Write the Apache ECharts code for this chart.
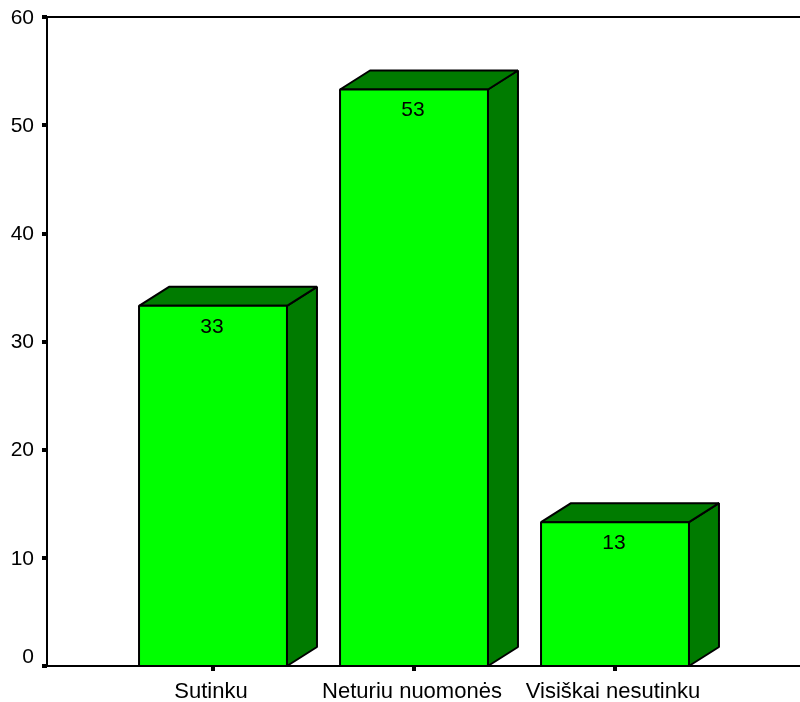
<!DOCTYPE html>
<html>
<head>
<meta charset="utf-8">
<style>html,body{margin:0;padding:0;background:#fff}#c{width:800px;height:702px}</style>
<script src="https://cdn.jsdelivr.net/npm/echarts@6/dist/echarts.min.js"></script>
</head>
<body>
<div id="c"></div>
<script>
var categories = ['Sutinku', 'Neturiu nuomonės', 'Visiškai nesutinku'];
var values = [33.3, 53.3, 13.3];
var valueLabels = ['33', '53', '13'];
var yTicks = [0, 10, 20, 30, 40, 50, 60];

var FONT = '"Liberation Sans", Arial, sans-serif';
var chart = echarts.init(document.getElementById('c'), null, {renderer: 'canvas'});

function renderBar(params, api) {
  var idx = api.value(0);
  var top = api.coord([idx, api.value(1)]);
  var base = api.coord([idx, 0]);
  var half = api.size([1, 0])[0] * 0.368;
  var dx = 30, dy = 19;
  var l = top[0] - half, r = top[0] + half, t = top[1], b = base[1];
  var line = {stroke: '#000', lineWidth: 2, lineJoin: 'bevel'};
  return {
    type: 'group',
    children: [
      {type: 'polygon', shape: {points: [[r, t], [r + dx, t - dy], [r + dx, b - dy], [r, b]]},
        style: Object.assign({fill: '#007b00'}, line)},
      {type: 'polygon', shape: {points: [[l, t], [l + dx, t - dy], [r + dx, t - dy], [r, t]]},
        style: Object.assign({fill: '#007b00'}, line)},
      {type: 'rect', shape: {x: l, y: t, width: r - l, height: b - t},
        style: Object.assign({fill: '#00ff00'}, line)},
      {type: 'text', style: {text: valueLabels[params.dataIndex], x: top[0] - 1, y: t + 21,
        align: 'center', verticalAlign: 'middle', fill: '#000', font: '21px ' + FONT}}
    ]
  };
}

chart.setOption({
  animation: false,
  backgroundColor: '#fff',
  grid: [
    {left: 47, right: 0, top: 17, bottom: 36, outerBoundsMode: 'none'},
    {left: 112.5, width: 603, top: 17, bottom: 36, outerBoundsMode: 'none'}
  ],
  xAxis: [
    {type: 'value', gridIndex: 0, position: 'bottom', min: 0, max: 1,
      axisLine: {show: true, onZero: false, lineStyle: {color: '#000', width: 2}},
      axisTick: {show: false}, axisLabel: {show: false}, splitLine: {show: false}},
    {type: 'value', gridIndex: 0, position: 'top', min: 0, max: 1,
      axisLine: {show: true, onZero: false, lineStyle: {color: '#000', width: 2}},
      axisTick: {show: false}, axisLabel: {show: false}, splitLine: {show: false}},
    {type: 'category', gridIndex: 1, data: categories, position: 'bottom',
      axisLine: {show: false},
      axisTick: {show: true, alignWithLabel: true, length: 5, lineStyle: {color: '#000', width: 4}},
      axisLabel: {interval: 0, color: '#000', fontFamily: FONT, fontSize: 22, margin: 15,
        padding: [0, 4, 0, 0], hideOverlap: false},
      splitLine: {show: false}}
  ],
  yAxis: [
    {type: 'value', gridIndex: 0, min: 0, max: yTicks[yTicks.length - 1], interval: 10,
      axisLine: {show: true, lineStyle: {color: '#000', width: 2}},
      axisTick: {show: true, length: 5, lineStyle: {color: '#000', width: 4}},
      axisLabel: {color: '#000', fontFamily: FONT, fontSize: 21, margin: 13,
        padding: [2, 0, 0, 0],
        formatter: function (v) { return v === 0 ? '{zero|0}' : String(v); },
        rich: {zero: {fontFamily: FONT, fontSize: 21, color: '#000', padding: [0, 0, 20, 0]}}},
      splitLine: {show: false}},
    {type: 'value', gridIndex: 1, min: 0, max: yTicks[yTicks.length - 1], interval: 10, show: false}
  ],
  series: [{
    type: 'custom',
    xAxisIndex: 2,
    yAxisIndex: 1,
    clip: false,
    renderItem: renderBar,
    encode: {x: 0, y: 1},
    data: values.map(function (v, i) { return [i, v]; }),
    z: 5
  }]
});
</script>
</body>
</html>
